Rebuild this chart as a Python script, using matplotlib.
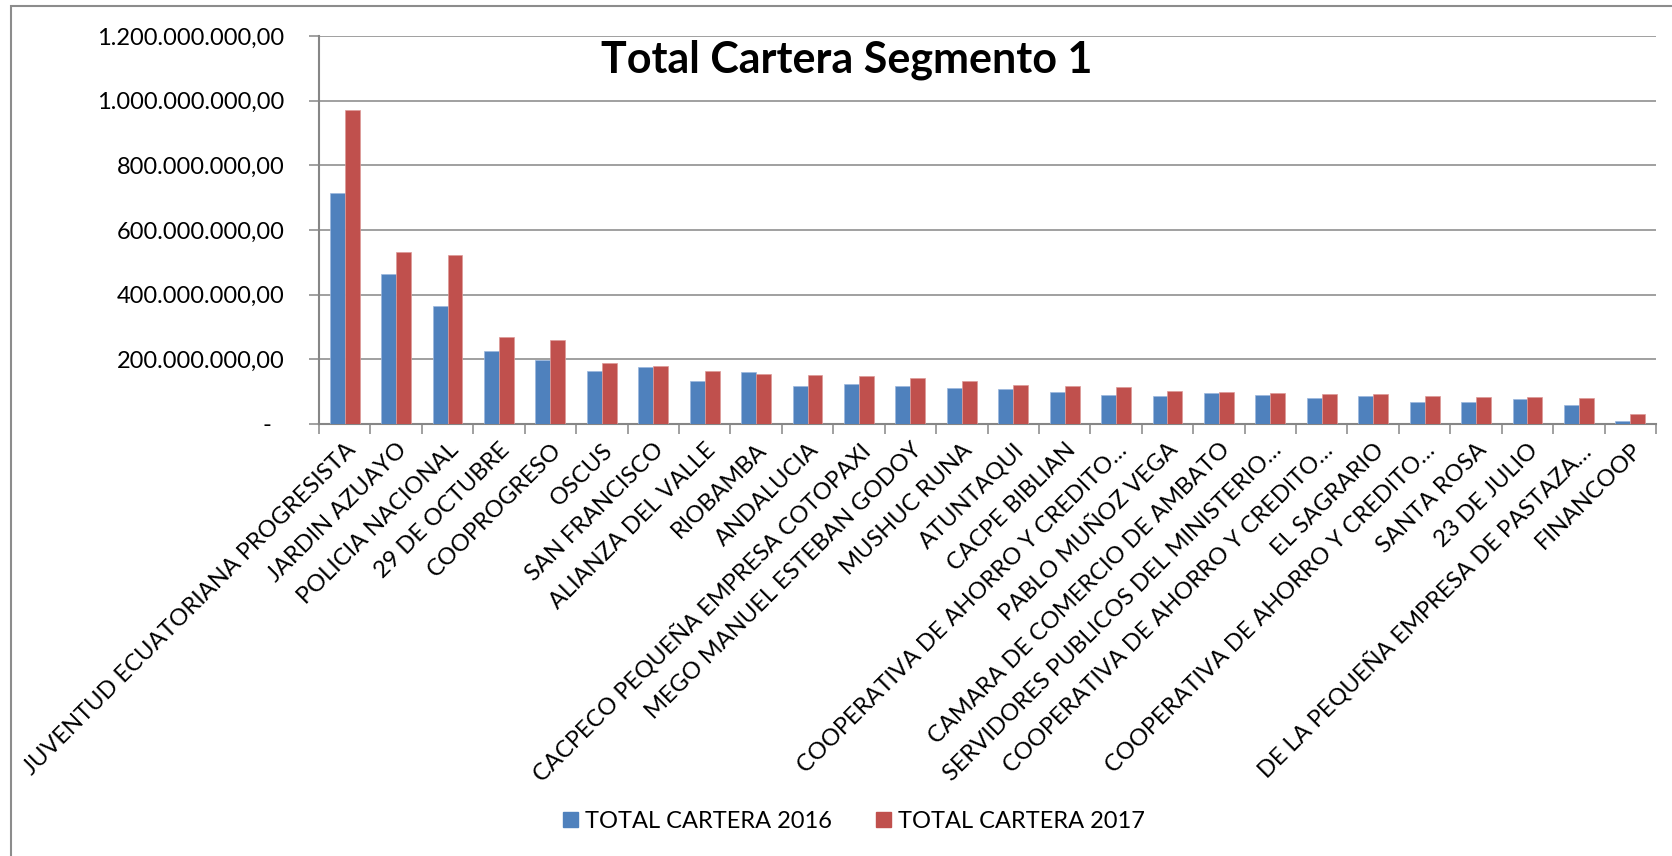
import numpy as np
import matplotlib
matplotlib.use("Agg")
import matplotlib.pyplot as plt
from matplotlib.patches import Rectangle, Patch
from matplotlib.ticker import FuncFormatter

plt.rcParams['font.family'] = ['Lato', 'DejaVu Sans']

# data
cooperativas = [
    "JUVENTUD ECUATORIANA PROGRESISTA", "JARDIN AZUAYO", "POLICIA NACIONAL",
    "29 DE OCTUBRE", "COOPROGRESO", "OSCUS", "SAN FRANCISCO",
    "ALIANZA DEL VALLE", "RIOBAMBA", "ANDALUCIA",
    "CACPECO PEQUEÑA EMPRESA COTOPAXI", "MEGO MANUEL ESTEBAN GODOY",
    "MUSHUC RUNA", "ATUNTAQUI", "CACPE BIBLIAN",
    "COOPERATIVA DE AHORRO Y CREDITO…", "PABLO MUÑOZ VEGA",
    "CAMARA DE COMERCIO DE AMBATO", "SERVIDORES PUBLICOS DEL MINISTERIO…",
    "COOPERATIVA DE AHORRO Y CREDITO…", "EL SAGRARIO",
    "COOPERATIVA DE AHORRO Y CREDITO…", "SANTA ROSA", "23 DE JULIO",
    "DE LA PEQUEÑA EMPRESA DE PASTAZA…", "FINANCOOP",
]
cartera_2016 = [715e6, 464e6, 365e6, 226e6, 197e6, 165e6, 175e6, 134e6, 162e6,
                116e6, 125e6, 119e6, 112e6, 107e6, 99e6, 91e6, 88e6, 95e6,
                89e6, 81e6, 86e6, 69e6, 69e6, 78e6, 60e6, 10e6]
cartera_2017 = [972e6, 533e6, 522e6, 270e6, 259e6, 189e6, 180e6, 163e6, 156e6,
                152e6, 147e6, 143e6, 134e6, 120e6, 119e6, 115e6, 101e6, 98e6,
                97e6, 94e6, 92e6, 86e6, 85e6, 84e6, 79e6, 30e6]
serie_labels = ["TOTAL CARTERA 2016", "TOTAL CARTERA 2017"]

W, H = 1672, 856
fig = plt.figure(figsize=(W / 100, H / 100), dpi=100)
ax = fig.add_axes([319 / W, 1 - 424 / H, (1656 - 319) / W, (424 - 36) / H])

# outer chart frame (only top and left edges fall inside the picture)
fig.patches.append(Rectangle((11 / W, -0.1), 1.2, 1.1 - 6 / H, transform=fig.transFigure,
                             fill=False, edgecolor="#8c8c8c", lw=1.5))

x = np.arange(len(cooperativas))
bw = 0.29
ax.bar(x - bw / 2, cartera_2016, bw, color="#4F81BD", edgecolor="#9bb7dd", lw=0.5, zorder=3)
ax.bar(x + bw / 2, cartera_2017, bw, color="#C0504D", edgecolor="#dd9a98", lw=0.5, zorder=3)

ax.set_xlim(-0.5, len(cooperativas) - 0.5)
ax.set_ylim(0, 1.2e9)
ax.set_yticks(np.arange(0, 1.2e9 + 1, 2e8))


def fmt(v, pos):
    if v == 0:
        return "-  "
    s = f"{v:,.2f}"
    return s.replace(",", "X").replace(".", ",").replace("X", ".")


ax.yaxis.set_major_formatter(FuncFormatter(fmt))
ax.grid(axis="y", color="#868686", lw=1.1, zorder=0)

# category tick marks between groups, labels at group centres
ax.set_xticks(np.arange(-0.5, len(cooperativas), 1.0))
ax.set_xticklabels([])
ax.set_xticks(x, minor=True)
ax.set_xticklabels(cooperativas, minor=True, rotation=45, ha="right", va="top",
                   rotation_mode="anchor", fontsize=17)
ax.tick_params(axis="x", which="major", length=7, width=1.1, color="#868686", direction="out")
ax.tick_params(axis="x", which="minor", length=0, pad=11)
ax.tick_params(axis="y", length=7, width=1.1, color="#868686", pad=18, labelsize=17)

for s in ["top", "right"]:
    ax.spines[s].set_visible(False)
for s in ["left", "bottom"]:
    ax.spines[s].set_color("#868686")
    ax.spines[s].set_linewidth(1.5)

fig.text(847 / W, 1 - 60 / H, "Total Cartera Segmento 1", ha="center", va="center",
         fontsize=31, fontweight="bold")

handles = [Patch(color="#4F81BD"), Patch(color="#C0504D")]
fig.legend(handles, serie_labels, loc="center", bbox_to_anchor=(854 / W, 1 - 821 / H),
           ncol=2, frameon=False, fontsize=17, handlelength=0.6, handleheight=0.6,
           handletextpad=0.3, columnspacing=1.9)

fig.savefig("out.png", dpi=100)
